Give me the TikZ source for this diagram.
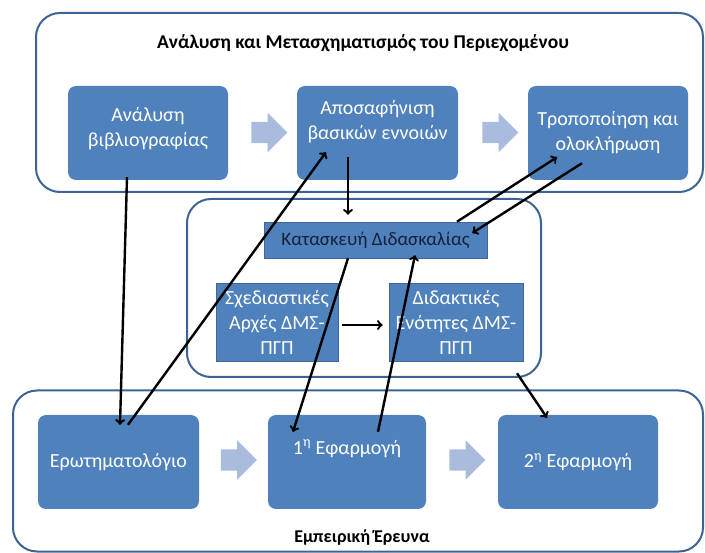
\documentclass[tikz,border=0pt]{standalone}
\usepackage{fontspec}
\setmainfont{Carlito}
\usetikzlibrary{arrows,positioning,calc,shapes.arrows}
\definecolor{boxblue}{RGB}{79,129,189}
\definecolor{frameblue}{RGB}{61,99,150}
\definecolor{chevblue}{RGB}{170,188,222}
\definecolor{darktext}{RGB}{22,32,58}

\begin{document}
\begin{tikzpicture}[x=1pt,y=-1pt,>=to,
  group/.style={draw=frameblue,line width=2pt,rounded corners=24pt,inner sep=0pt},
  box/.style={fill=boxblue,text=white,rounded corners=8pt,align=center,inner sep=3pt,
    font=\fontsize{20pt}{25pt}\selectfont},
  flatbox/.style={fill=boxblue,draw=boxblue!80!black,line width=0.6pt,align=center,inner sep=1pt,
    font=\fontsize{20pt}{25pt}\selectfont},
  chev/.style={single arrow,fill=chevblue,inner sep=10.5pt,single arrow head extend=9pt,
    minimum height=36pt,single arrow head indent=0pt},
  heading/.style={font=\bfseries\fontsize{19.5pt}{21pt}\selectfont,text=black},
  link/.style={->,line width=2.4pt,black}]
\useasboundingbox (0,0) rectangle (705,553);
% frames
\node[group,minimum width=667pt,minimum height=179pt] (top) at (369.5,102.5) {};
\node[group,minimum width=354pt,minimum height=178pt] (mid) at (364,288) {};
\node[group,minimum width=690pt,minimum height=161pt] (bot) at (358,471) {};
\node[heading] (toptitle) at (363,43) {Ανάλυση και Μετασχηματισμός του Περιεχομένου};
\node[heading,font=\bfseries\fontsize{18pt}{20pt}\selectfont] (bottitle) at (362,537) {Εμπειρική Έρευνα};
% upper row
\node[box,minimum width=160pt,minimum height=94pt,text depth=12pt] (bib) at (148,133) {Ανάλυση\\βιβλιογραφίας};
\node[box,minimum width=161pt,minimum height=94pt,text depth=26pt] (apo) at (377.5,133) {Αποσαφήνιση\\βασικών εννοιών};
\node[box,minimum width=160pt,minimum height=94pt] (tro) at (608,133) {Τροποποίηση και\\ολοκλήρωση};
\node[chev] (c1) at (264,132.5) {};
\node[chev] (c2) at (495,132.5) {};
% middle
\node[flatbox,text=darktext,font=\fontsize{19pt}{21pt}\selectfont,minimum width=223pt,minimum height=36pt] (kat) at (375.5,240) {Κατασκευή Διδασκαλίας};
\node[flatbox,text=white,minimum width=122pt,minimum height=78pt] (sxe) at (277,322) {Σχεδιαστικές\\Αρχές ΔΜΣ-\\ΠΓΠ};
\node[flatbox,text=white,minimum width=134pt,minimum height=78pt] (did) at (456,322) {Διδακτικές\\Ενότητες ΔΜΣ-\\ΠΓΠ};
% lower row
\node[box,minimum width=161pt,minimum height=94pt] (ero) at (118.5,462) {Ερωτηματολόγιο};
\node[box,minimum width=158pt,minimum height=94pt,text depth=30pt] (ef1) at (347,462) {1\textsuperscript{η} Εφαρμογή};
\node[box,minimum width=160pt,minimum height=94pt] (ef2) at (578,462) {2\textsuperscript{η} Εφαρμογή};
\node[chev] (c3) at (233.5,460) {};
\node[chev] (c4) at (462,460) {};
% connectors
\draw[link] ([xshift=-21pt,yshift=3pt]bib.south) -- ([xshift=1.5pt,yshift=-10pt]ero.north);
\draw[link] ([xshift=9.5pt,yshift=-10pt]ero.north) -- ([xshift=-51.5pt,yshift=28pt]apo.south);
\draw[link] ([xshift=-29.5pt,yshift=23pt]apo.south) -- ([xshift=-27.5pt,yshift=7pt]kat.north);
\draw[link] ([xshift=81.5pt]kat.north) -- ([xshift=-51pt,yshift=23pt]tro.south);
\draw[link] ([xshift=-26pt,yshift=17pt]tro.south) -- ([xshift=-15pt,yshift=7pt]kat.east);
\draw[link] ([xshift=-27.5pt]kat.south) -- ([xshift=-54pt,yshift=-17pt]ef1.north);
\draw[link] ([xshift=31pt,yshift=-17pt]ef1.north) -- ([xshift=39.5pt,yshift=3pt]kat.south);
\draw[link] ([xshift=4pt,yshift=-3pt]sxe.east) -- ([xshift=-6pt,yshift=-3pt]did.west);
\draw[link] ([xshift=61pt,yshift=-12pt]did.south) -- ([xshift=-31pt,yshift=-3pt]ef2.north);
\end{tikzpicture}
\end{document}
